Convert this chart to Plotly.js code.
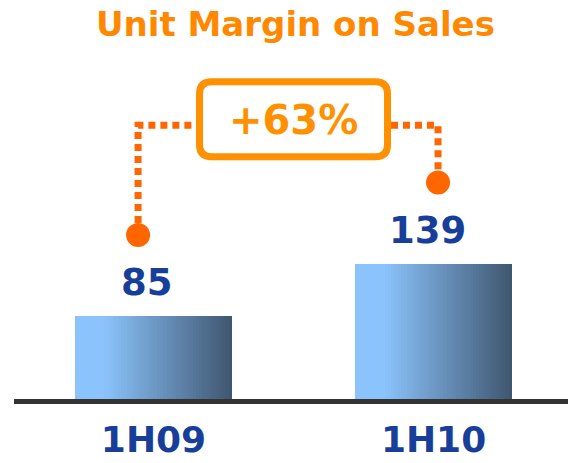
<!DOCTYPE html>
<html>
<head>
<meta charset="utf-8">
<script src="https://cdn.plot.ly/plotly-3.0.1.min.js"></script>
<style>html,body{margin:0;padding:0;background:#fff;}#chart{width:568px;height:463px;}</style>
</head>
<body>
<div id="chart"></div>
<script>
// ---- data ----
var categories = ['1H09', '1H10'];
var values = [85, 139];
var valueLabels = ['85', '139'];
var changeLabel = '+63%';
var titleText = 'Unit Margin on Sales';

// ---- styles / layout constants ----
var barWidth = 0.56;
var nSlices = 48;
var cLight = [139, 196, 253];
var cDark = [63, 86, 111];
var labelColor = '#173f99';
var dotColor = '#ff6600';
var boxColor = '#ff9100';
var bracketLevel = 282;   // y level of the dotted bracket
var markerLift = 84;      // circle marker above bar top
var connOffsets = [-0.055, 0.016];
var boxHalf = 0.348;

var xs = categories.map(function (c, i) { return i; });

function sliceColor(t) {
  var f = t < 0.18 ? 0 : (t - 0.18) / 0.82;
  var c = cLight.map(function (v, k) { return Math.round(v + (cDark[k] - v) * f); });
  return 'rgb(' + c.join(',') + ')';
}

var traces = [];
var d = barWidth / nSlices;
for (var i = 0; i < nSlices; i++) {
  var start = -barWidth / 2 + i * d;
  traces.push({
    type: 'bar', x: xs, y: values,
    width: barWidth / 2 - start,
    offset: start,
    marker: { color: sliceColor((i + 0.5) / nSlices), line: { width: 0 } },
    hoverinfo: 'skip', showlegend: false
  });
}

// dotted bracket
var xc = xs.map(function (x, i) { return x + connOffsets[i]; });
var yc = values.map(function (v) { return v + markerLift; });
var mid = (xs[0] + xs[1]) / 2;
traces.push({
  type: 'scatter', mode: 'lines',
  x: [xc[0], xc[0], mid - boxHalf, null, mid + boxHalf, xc[1], xc[1]],
  y: [yc[0], bracketLevel, bracketLevel, null, bracketLevel, bracketLevel, yc[1]],
  line: { color: dotColor, width: 7, dash: '7px,5px' },
  hoverinfo: 'skip', showlegend: false
});
traces.push({
  type: 'scatter', mode: 'markers', x: xc, y: yc,
  marker: { color: dotColor, size: 24 },
  hoverinfo: 'skip', showlegend: false
});

var annotations = xs.map(function (x, i) {
  return {
    x: x, y: values[i], xref: 'x', yref: 'y', text: valueLabels[i],
    showarrow: false, yanchor: 'bottom', yshift: 10, xshift: -6,
    font: { family: 'DejaVu Sans', size: 37, weight: 'bold', color: labelColor }
  };
});
annotations.push({
  x: mid, y: bracketLevel, xref: 'x', yref: 'y', text: changeLabel,
  showarrow: false, yshift: 5,
  font: { family: 'DejaVu Sans', size: 40, weight: 'bold', color: boxColor }
});

var layout = {
  width: 568, height: 463,
  margin: { l: 14, r: 0, t: 0, b: 64 },
  paper_bgcolor: '#ffffff', plot_bgcolor: 'rgba(0,0,0,0)',
  barmode: 'overlay',
  bargap: 0,
  title: {
    text: titleText, x: 0.508, xanchor: 'center', xref: 'paper',
    y: 0.948, yref: 'container', yanchor: 'middle',
    font: { family: 'DejaVu Sans', size: 34, weight: 'bold', color: '#ff8800' }
  },
  xaxis: {
    type: 'linear', range: [-0.498, 1.48],
    tickvals: xs, ticktext: categories,
    showgrid: false, zeroline: false,
    showline: true, linecolor: '#333333', linewidth: 5,
    ticks: '', ticklabelstandoff: 5,
    tickfont: { family: 'DejaVu Sans', size: 36, weight: 'bold', color: labelColor },
    fixedrange: true
  },
  yaxis: {
    range: [0, 411], visible: false, showgrid: false, zeroline: false, fixedrange: true
  },
  shapes: [{
    type: 'path', xref: 'x', yref: 'y',
    xsizemode: 'pixel', ysizemode: 'pixel', xanchor: mid, yanchor: bracketLevel,
    path: 'M -82,43.5 L 82,43.5 Q 94,43.5 94,31.5 L 94,-19.5 Q 94,-31.5 82,-31.5 L -82,-31.5 Q -94,-31.5 -94,-19.5 L -94,31.5 Q -94,43.5 -82,43.5 Z',
    line: { color: boxColor, width: 7 }, fillcolor: '#ffffff', layer: 'above'
  }],
  annotations: annotations,
  showlegend: false,
  hovermode: false
};

Plotly.newPlot('chart', traces, layout, { staticPlot: true, displayModeBar: false });
</script>
</body>
</html>
